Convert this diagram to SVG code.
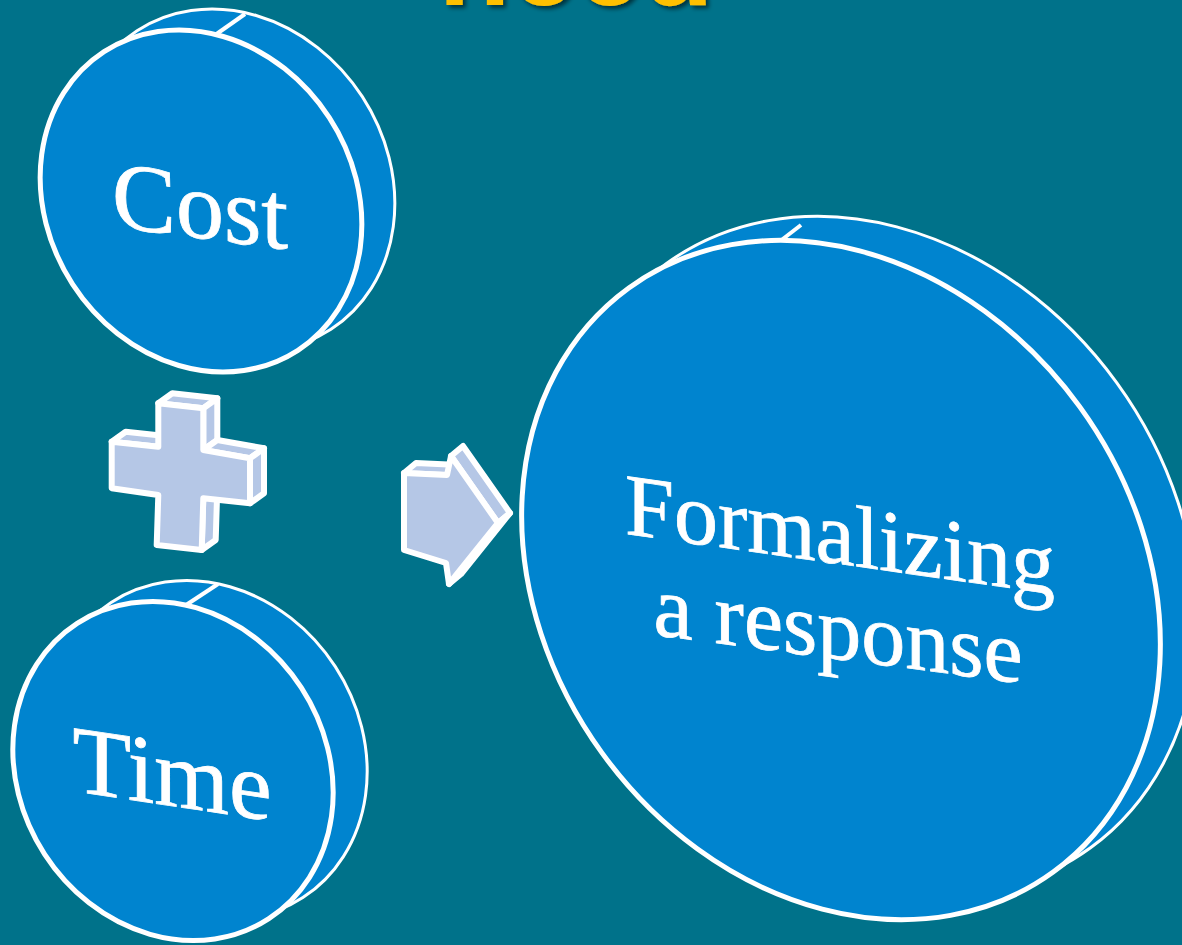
<svg xmlns="http://www.w3.org/2000/svg" width="1182" height="945" viewBox="0 0 1182 945">
<defs>
<filter id="sh" x="-10%" y="-10%" width="130%" height="140%">
<feDropShadow dx="3" dy="3" stdDeviation="2" flood-color="#000000" flood-opacity="0.55"/>
</filter>
<style>
.bg{fill:#00728A}
.back{fill:#0084CF;stroke:#FFFFFF;stroke-width:3}
.front{fill:#0084CF;stroke:#FFFFFF;stroke-width:5}
.seam{stroke:#FFFFFF;stroke-width:4;fill:none}
.sym{fill:#B5C7E6;stroke:#FFFFFF;stroke-width:6;stroke-linejoin:round}
.lbl{font-family:"Liberation Serif","Times New Roman",serif;font-style:normal;font-weight:normal;fill:#FFFFFF;stroke:#FFFFFF;stroke-width:0.8;text-anchor:middle}
.title{font-family:"Liberation Sans",Arial,sans-serif;font-weight:bold;fill:#FFC000;text-anchor:middle}
</style>
</defs>
<rect class="bg" x="0" y="0" width="1182" height="945"/>
<text class="title" x="576" y="5" font-size="118" filter="url(#sh)">need</text>

<g id="cost">
<ellipse class="back" cx="234" cy="180" rx="153" ry="178" transform="rotate(-33 234 180)"/>
<line class="seam" x1="208" y1="40" x2="245" y2="14"/>
<ellipse class="front" cx="201" cy="201" rx="153" ry="178" transform="rotate(-33 201 201)"/>
<text class="lbl" font-size="96" transform="translate(200 238) skewY(7.5)">Cost</text>
</g>

<g id="time">
<ellipse class="back" cx="207" cy="750" rx="153" ry="176" transform="rotate(-33 207 750)"/>
<line class="seam" x1="180" y1="609" x2="218" y2="584"/>
<ellipse class="front" cx="173" cy="771" rx="153" ry="176" transform="rotate(-33 173 771)"/>
<text class="lbl" font-size="96" transform="translate(172 806) skewY(8.5)">Time</text>
</g>

<g id="response">
<ellipse class="back" cx="878" cy="556" rx="295" ry="361" transform="rotate(-36 878 556)"/>
<line class="seam" x1="766" y1="252" x2="801" y2="225"/>
<ellipse class="front" cx="841" cy="580" rx="295" ry="361" transform="rotate(-36 841 580)"/>
<text class="lbl" font-size="88" transform="translate(840 564) skewY(8)">Formalizing</text>
<text class="lbl" font-size="88" transform="translate(838 659) skewY(7.5)">a response</text>
</g>

<g id="plus">
<polygon class="sym" points="158.3,403.3 203.3,408.3 217.3,398.3 172.3,393.3"/>
<polygon class="sym" points="111.7,441.7 158.3,446.7 172.3,436.7 125.7,431.7"/>
<polygon class="sym" points="203.3,408.3 203.3,450 217.3,440 217.3,398.3"/>
<polygon class="sym" points="203.3,450 250,458.3 264,448.3 217.3,440"/>
<polygon class="sym" points="250,458.3 250,503.3 264,493.3 264,448.3"/>
<polygon class="sym" points="203.3,498.3 201.7,550 215.7,540 217.3,488.3"/>
<polygon class="sym" points="158.3,403.3 203.3,408.3 203.3,450 250,458.3 250,503.3 203.3,498.3 201.7,550 156.7,545 158.3,495 111.7,488.3 111.7,441.7 158.3,446.7"/>
</g>

<g id="arrow">
<polygon class="sym" points="404,473 447,475 459,465 416,463"/>
<polygon class="sym" points="451,456 498,523 510,513 463,446"/>
<polygon class="sym" points="498,523 449,584 461,574 510,513"/>
<polygon class="sym" points="404,473 447,475 451,456 498,523 449,584 446,563 404,550"/>
</g>
</svg>
